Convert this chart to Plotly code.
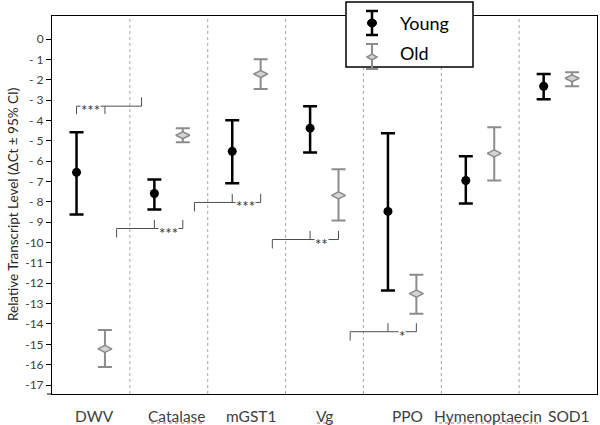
import plotly.graph_objects as go

# ---------------- data ----------------
genes = ["DWV", "Catalase", "mGST1", "Vg", "PPO", "Hymenoptaecin", "SOD1"]
young_mean = [-6.55, -7.59, -5.52, -4.38, -8.47, -6.95, -2.32]
young_upper = [-4.58, -6.90, -3.99, -3.30, -4.63, -5.76, -1.72]
young_lower = [-8.62, -8.37, -7.09, -5.57, -12.36, -8.08, -2.96]
old_mean = [-15.22, -4.73, -1.72, -7.68, -12.51, -5.62, -1.93]
old_upper = [-14.29, -4.38, -0.99, -6.40, -11.58, -4.33, -1.63]
old_lower = [-16.11, -5.07, -2.46, -8.92, -13.50, -6.95, -2.32]
sig_labels = ["***", "***", "***", "**", "*"]          # for the first five genes
y_tick_vals = list(range(0, -18, -1))
y_tick_text = ["0"] + [f"- {k}" for k in range(1, 10)] + [f"-{k}" for k in range(10, 18)]

# ---------------- layout constants ----------------
W, H = 600, 425
ML, MR, MT, MB = 52, 3, 16, 31
PW, PH = W - ML - MR, H - MT - MB
FONT = "Lato, 'Open Sans', sans-serif"
TXT = "#404040"
YOUNG_OFF, OLD_OFF = -0.185, 0.18


def px(x):   # pixel x -> paper
    return (x - ML) / PW


def py(y):   # pixel y -> paper
    return (H - MB - y) / PH


idx = list(range(len(genes)))
fig = go.Figure()

fig.add_trace(go.Scatter(
    x=[i + YOUNG_OFF for i in idx], y=young_mean, mode="markers", name="Young",
    marker=dict(symbol="circle", size=9, color="black"),
    error_y=dict(type="data", symmetric=False,
                 array=[u - m for u, m in zip(young_upper, young_mean)],
                 arrayminus=[m - l for m, l in zip(young_mean, young_lower)],
                 color="black", thickness=2.5, width=7),
    showlegend=False))

fig.add_trace(go.Scatter(
    x=[i + OLD_OFF for i in idx], y=old_mean, mode="markers", name="Old",
    marker=dict(symbol="diamond-wide", size=10, color="#d4d4d4",
                line=dict(color="#8c8c8c", width=1.5)),
    error_y=dict(type="data", symmetric=False,
                 array=[u - m for u, m in zip(old_upper, old_mean)],
                 arrayminus=[m - l for m, l in zip(old_mean, old_lower)],
                 color="#8c8c8c", thickness=2, width=7),
    showlegend=False))

shapes = []
annotations = []

# dotted category separators
for i in idx[:-1]:
    shapes.append(dict(type="line", xref="x", yref="paper", x0=i + 0.5, x1=i + 0.5,
                       y0=0, y1=1, line=dict(color="#a6a6a6", width=1, dash="dot"),
                       layer="below"))

# significance brackets
BR = "#505050"
base_levels = [-3.30, -9.31, -8.03, -9.85, -14.38]
for i, lab in enumerate(sig_labels):
    b = base_levels[i]
    yx, ox = i + YOUNG_OFF, i + OLD_OFF
    if i == 0:
        path = (f"M {yx},{b - 0.39} L {yx},{b} L {i + 0.65},{b} L {i + 0.65},{b + 0.44}"
                f" M {ox},{b} L {ox},{b - 0.39}")
    else:
        left = i - 0.67
        path = (f"M {left},{b - 0.44} L {left},{b} L {ox},{b} L {ox},{b + 0.42}"
                f" M {yx},{b} L {yx},{b + 0.42}")
    shapes.append(dict(type="path", xref="x", yref="y", path=path,
                       line=dict(color=BR, width=1)))
    tx = i - 0.01 if lab != "**" else i - 0.04
    annotations.append(dict(x=tx, y=b, xref="x", yref="y", text=lab, showarrow=False,
                            font=dict(family=FONT, size=15, color="#333333"),
                            bgcolor="white", borderpad=0, yshift=-4))

# x labels (as in reference positions)
label_shift = [0.05, 0.10, 0.05, 0.0, 0.06, 0.10, 0.14]
for i, g in enumerate(genes):
    annotations.append(dict(x=i + label_shift[i], y=0, xref="x", yref="paper", text=g,
                            showarrow=False, yanchor="top", yshift=-11,
                            font=dict(family=FONT, size=15.5, color=TXT)))

# red spell-check squiggles under some labels
for x0, x1 in [(151, 204), (317, 333), (439, 540)]:
    shapes.append(dict(type="line", xref="paper", yref="paper", x0=px(x0), x1=px(x1),
                       y0=py(423), y1=py(423),
                       line=dict(color="#e06060", width=1, dash="dot")))

# y axis title
annotations.append(dict(x=px(13), y=0.5, xref="paper", yref="paper", xanchor="center",
                        yanchor="middle",
                        text="Relative Transcript Level (ΔCt ± 95% CI)", textangle=-90,
                        showarrow=False, font=dict(family=FONT, size=13.5, color="#262626")))

# small corner tick at bottom-left
shapes.append(dict(type="line", xref="paper", yref="paper", x0=px(47), x1=px(52),
                   y0=0, y1=0, line=dict(color="black", width=1)))

# custom legend box
shapes.append(dict(type="rect", xref="paper", yref="paper", x0=px(346), x1=px(473),
                   y0=py(67), y1=py(2), line=dict(color="black", width=1.5),
                   fillcolor="white", layer="above"))
gx = 372
# young glyph
shapes += [
    dict(type="line", xref="paper", yref="paper", x0=px(gx), x1=px(gx), y0=py(35), y1=py(11),
         line=dict(color="black", width=2.5), layer="above"),
    dict(type="line", xref="paper", yref="paper", x0=px(gx - 6), x1=px(gx + 6), y0=py(11), y1=py(11),
         line=dict(color="black", width=2.5), layer="above"),
    dict(type="line", xref="paper", yref="paper", x0=px(gx - 6), x1=px(gx + 6), y0=py(35), y1=py(35),
         line=dict(color="black", width=2.5), layer="above"),
    dict(type="circle", xref="paper", yref="paper", x0=px(gx - 4.5), x1=px(gx + 4.5),
         y0=py(27), y1=py(19), fillcolor="black", line=dict(color="black", width=1), layer="above"),
]
# old glyph
shapes += [
    dict(type="line", xref="paper", yref="paper", x0=px(gx), x1=px(gx), y0=py(69), y1=py(44),
         line=dict(color="#8c8c8c", width=2), layer="above"),
    dict(type="line", xref="paper", yref="paper", x0=px(gx - 6), x1=px(gx + 6), y0=py(44), y1=py(44),
         line=dict(color="#8c8c8c", width=2), layer="above"),
    dict(type="line", xref="paper", yref="paper", x0=px(gx - 6), x1=px(gx + 6), y0=py(69), y1=py(69),
         line=dict(color="#8c8c8c", width=2), layer="above"),
    dict(type="path", xref="paper", yref="paper",
         path=f"M {px(gx - 5)},{py(57)} L {px(gx)},{py(54)} L {px(gx + 5)},{py(57)} L {px(gx)},{py(60)} Z",
         fillcolor="#d4d4d4", line=dict(color="#8c8c8c", width=1.5), layer="above"),
]
annotations.append(dict(x=px(398), y=py(23), xref="paper", yref="paper", text="Young",
                        showarrow=False, xanchor="left", yanchor="middle",
                        font=dict(family=FONT, size=18, color="black")))
annotations.append(dict(x=px(398), y=py(53), xref="paper", yref="paper", text="Old",
                        showarrow=False, xanchor="left", yanchor="middle",
                        font=dict(family=FONT, size=18, color="black")))

fig.update_layout(
    width=W, height=H,
    margin=dict(l=ML, r=MR, t=MT, b=MB),
    paper_bgcolor="white", plot_bgcolor="white",
    shapes=shapes, annotations=annotations,
    xaxis=dict(range=[-0.5, 6.5], showticklabels=False, ticks="", showgrid=False,
               zeroline=False, showline=True, linecolor="black", linewidth=1, mirror=True),
    yaxis=dict(range=[-17.44, 1.13], tickvals=y_tick_vals, ticktext=y_tick_text,
               ticks="outside", ticklen=5, tickcolor="black", showgrid=False,
               zeroline=False, showline=True, linecolor="black", linewidth=1, mirror=True,
               tickfont=dict(family=FONT, size=12, color=TXT)),
)

fig.write_html("out.html", config={"displayModeBar": False},
               post_script="document.body.style.margin='0';document.body.style.overflow='hidden';")
